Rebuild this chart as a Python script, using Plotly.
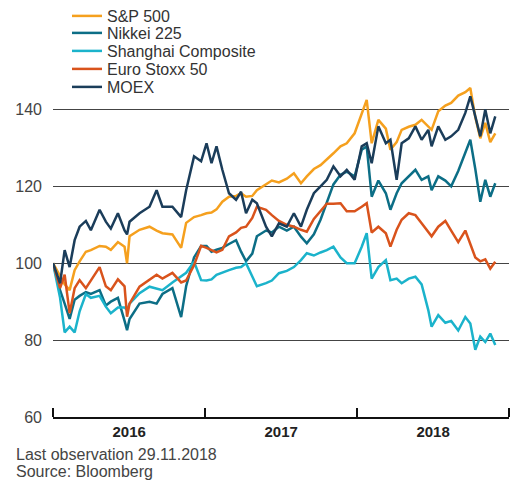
import plotly.graph_objects as go

dates = ["2016-01-01","2016-01-18","2016-01-29","2016-02-10","2016-02-22","2016-03-05","2016-03-20","2016-04-01",
         "2016-04-22","2016-05-07","2016-05-19","2016-06-05","2016-06-21","2016-06-27","2016-07-03","2016-07-27",
         "2016-08-20","2016-09-06","2016-09-20","2016-10-14","2016-11-04","2016-11-16","2016-12-05","2016-12-22",
         "2017-01-04","2017-01-16","2017-01-28","2017-02-11","2017-02-27","2017-03-16","2017-03-28","2017-04-09",
         "2017-04-24","2017-05-05","2017-05-27","2017-06-10","2017-06-27","2017-07-16","2017-08-02","2017-08-19",
         "2017-09-02","2017-09-19","2017-10-05","2017-10-20","2017-11-05","2017-11-22","2017-12-07","2017-12-26",
         "2018-01-12","2018-01-24","2018-02-05","2018-02-21","2018-03-11","2018-03-22","2018-04-06","2018-04-18",
         "2018-05-05","2018-05-21","2018-06-05","2018-06-21","2018-06-29","2018-07-15","2018-08-01","2018-08-15",
         "2018-09-01","2018-09-18","2018-09-30","2018-10-12","2018-10-24","2018-11-05","2018-11-17","2018-11-29"]

sp500 = [100, 96.5, 94.5, 93, 98.2, 100.5, 103, 103.4, 104.5, 104.3,
         103.5, 105.5, 104.3, 100, 107, 108.7, 109.5, 108.5, 107.8, 107.5,
         104, 110.5, 112, 112.5, 113, 113.2, 114, 116, 117.3, 117.5,
         118.2, 117.3, 117.5, 119, 120.5, 121.5, 121, 122, 123.4, 120.8,
         122.6, 124.5, 125.5, 126.9, 128.6, 130.4, 131.2, 133.8, 139.1, 142.5,
         131.2, 137.3, 135, 129.5, 131.5, 134.7, 135.5, 136, 137.3, 135.5,
         134.7, 139.5, 141, 141.7, 143.6, 144.5, 145.6, 138, 132.5, 136.5,
         131.5, 133.8]

nikkei = [100, 93, 89.5, 85.5, 90.5, 91.5, 92.5, 92, 93, 89,
          90, 91, 85, 82.6, 85.5, 89.5, 90, 89.5, 92, 93.5,
          86, 94, 101.5, 104.5, 104.5, 103, 103.5, 104, 105, 106,
          103, 100.5, 102.5, 107, 108.5, 108, 109.5, 108.5, 109.5, 106.9,
          105.2, 107.5, 111.3, 115.6, 120.5, 123, 123.8, 122.6, 129.5, 130.4,
          117.3, 121.5, 118.2, 113.9, 118.2, 120.8, 122.6, 124.3, 121.7, 122.6,
          119, 122.6, 121.5, 120, 124, 128.6, 132.1, 124.5, 116, 121.7,
          117.3, 120.8]

shanghai = [100, 91, 82, 83.5, 82, 87.5, 92, 91, 91.5, 88.7,
            87, 88.5, 88.5, 87.8, 89.5, 92.2, 93.9, 93.5, 93, 95,
            96.5, 97.5, 100.4, 95.6, 95.5, 95.8, 97, 97.6, 98.2, 98.8,
            99, 100, 96.5, 94, 94.8, 95.5, 97.4, 98, 99, 100.8,
            102.6, 102, 102.8, 103.4, 104.3, 101.5, 100, 100, 104.3, 107.8,
            96, 99, 100.8, 95.6, 96, 94.8, 96, 96.5, 94.5, 87.8,
            83.5, 86.5, 84.5, 85, 82.5, 86, 84.3, 77.5, 80.9, 79.5,
            81.7, 78.7]

eurostoxx = [100, 93.5, 97, 87, 93.5, 95.6, 93.5, 95.6, 99, 94,
             93, 95.8, 94, 86.1, 89.5, 93.9, 95.6, 97, 96, 97.5,
             95, 95.5, 99.5, 104.5, 104, 103.4, 102.8, 103.5, 107, 108,
             109.2, 109.5, 111.8, 114.7, 113.9, 112.5, 111, 110, 109.5, 108.7,
             108.2, 111.5, 113.5, 115.5, 115.5, 115.6, 113.5, 113.5, 114.7, 115.6,
             108, 109.5, 107.8, 104.3, 108.7, 111.3, 113, 112.5, 110.4, 108,
             107, 109.5, 111, 108.5, 105.5, 108.5, 105, 101.5, 100.5, 101,
             98.6, 100.4]

moex = [100, 94.8, 103.4, 99, 106, 109.5, 111, 108.6, 113.9, 110.8,
        109, 113, 108.5, 107.5, 110.8, 113, 114.7, 119, 114.7, 114.7,
        112, 119, 127.8, 126.5, 131.2, 126, 130.4, 124.3, 118.2, 116.5,
        118.6, 113, 116.5, 115.6, 109.5, 107, 110.4, 109.5, 113, 109.5,
        113.9, 118.2, 120, 121.7, 125.2, 122.6, 124.3, 121.7, 130.4, 131.2,
        126, 135.6, 131.2, 132.1, 121.7, 131.2, 132.5, 135.6, 132.1, 134.7,
        130.4, 135.6, 132.1, 133, 134.7, 139.1, 143.4, 138.2, 133, 140,
        133.8, 138.2]

series_names = ["S&P 500", "Nikkei 225", "Shanghai Composite", "Euro Stoxx 50", "MOEX"]
series_values = [sp500, nikkei, shanghai, eurostoxx, moex]
series_colors = ["#F5A01E", "#0C6E86", "#1BB3CB", "#D9531C", "#1B3D5A"]

y_ticks = [60, 80, 100, 120, 140]
footer_lines = ["Last observation 29.11.2018", "Source: Bloomberg"]

FONT = "Liberation Sans, Arial, Helvetica, sans-serif"

fig = go.Figure()
legend_ids = ["legend", "legend2", "legend3", "legend4", "legend5"]
for name, vals, col, lid in zip(series_names, series_values, series_colors, legend_ids):
    fig.add_trace(go.Scatter(x=dates, y=vals, mode="lines", name=name,
                             line=dict(color=col, width=2.5), legend=lid))

M_L, M_R, M_T, M_B = 53, 1, 71, 63
plot_h = 480 - M_T - M_B
plot_w = 510 - M_L - M_R
legend_rows_px = [16, 33, 51, 69, 87]
layout_legends = {}
for lid, py in zip(legend_ids, legend_rows_px):
    layout_legends[lid] = dict(
        x=(67 - M_L) / plot_w, xanchor="left",
        y=(480 - M_B - py) / plot_h, yanchor="middle",
        bgcolor="rgba(0,0,0,0)", borderwidth=0,
        font=dict(family=FONT, size=16, color="#333333"),
    )

fig.update_layout(
    width=510, height=480,
    margin=dict(l=M_L, r=M_R, t=M_T, b=M_B, autoexpand=False),
    paper_bgcolor="white", plot_bgcolor="white",
    showlegend=True,
    **layout_legends,
    xaxis=dict(
        type="date",
        range=["2016-01-01", "2019-01-01"],
        tick0="2016-01-01", dtick="M12",
        ticklabelmode="period", tickformat="%Y",
        ticks="inside", ticklen=9, tickwidth=1.5, tickcolor="#111111",
        showline=True, linecolor="#111111", linewidth=1.5,
        showgrid=False, zeroline=False, automargin=False,
        tickfont=dict(family=FONT, size=15, color="#222222", weight="bold"),
    ),
    yaxis=dict(
        range=[60, 150],
        tickvals=y_ticks,
        showgrid=True, gridcolor="#444444", gridwidth=1,
        showline=False, zeroline=False, ticks="", automargin=False,
        ticklabelstandoff=10,
        tickfont=dict(family=FONT, size=16, color="#444444"),
    ),
)

for i, txt in enumerate(footer_lines):
    fig.add_annotation(
        text=txt, xref="paper", yref="paper",
        x=(14 - M_L) / plot_w, xanchor="left",
        y=-(455 + 16 * i - (480 - M_B)) / plot_h, yanchor="middle",
        showarrow=False,
        font=dict(family=FONT, size=16, color="#444444"),
    )

fig.write_html("out.html", config={"displayModeBar": False},
               post_script="document.body.style.margin='0px';document.body.style.overflow='hidden';")
